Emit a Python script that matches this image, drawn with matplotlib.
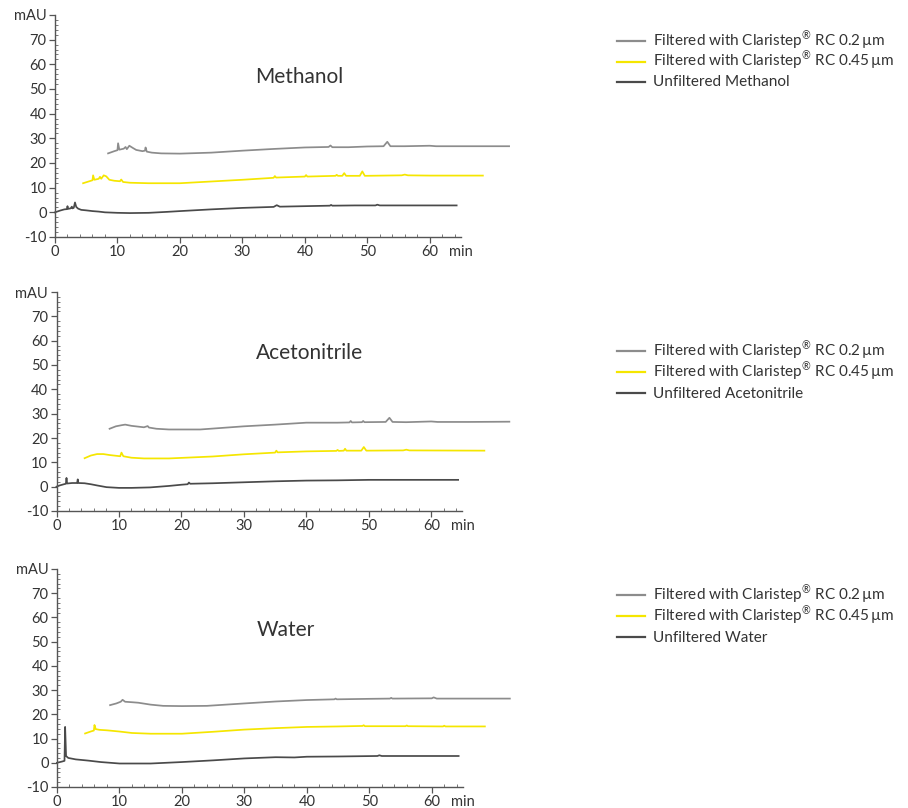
import matplotlib
matplotlib.use("Agg")
import matplotlib.pyplot as plt
from matplotlib.lines import Line2D
from matplotlib.ticker import MultipleLocator

plt.rcParams['font.family'] = ['Lato', 'DejaVu Sans']
plt.rcParams['mathtext.fontset'] = 'custom'
plt.rcParams['mathtext.rm'] = 'Lato'
plt.rcParams['mathtext.it'] = 'Lato:italic'
plt.rcParams['mathtext.bf'] = 'Lato:bold'

# ---------------- data (time in min, absorbance in mAU, as drawn with offsets) -------------
meth_unf = [(0,0),(0.8,0.7),(1.5,1.2),(1.9,1.3),(2.0,2.5),(2.1,1.4),(2.5,1.6),(2.7,2.3),(2.8,1.6),
            (3.0,1.8),(3.2,4.0),(3.4,2.2),(3.7,1.5),(4.2,1.0),(5,0.8),(6,0.5),(7,0.3),(8,0.0),
            (10,-0.2),(12,-0.3),(15,-0.2),(18,0.2),(20,0.5),(25,1.2),(30,1.8),(35,2.2),(35.5,2.9),
            (36,2.3),(40,2.5),(44,2.7),(44.2,3.0),(44.4,2.7),(48,2.8),(51.3,2.8),(51.6,3.1),(52,2.8),
            (56,2.8),(60,2.8),(64.3,2.8)]
meth_045 = [(4.5,11.8),(5.5,12.6),(6.0,13.0),(6.1,15.0),(6.3,13.2),(7.0,13.6),(7.2,14.4),(7.4,13.6),
            (7.8,15.0),(8.2,14.6),(8.7,13.2),(9.5,12.8),(10.4,12.6),(10.6,13.3),(10.9,12.3),(12,12.0),
            (15,11.8),(20,11.8),(25,12.5),(30,13.2),(35,14.0),(35.2,14.7),(35.4,14.1),(40,14.5),
            (40.2,15.1),(40.4,14.5),(44.9,14.8),(45.1,15.2),(45.3,14.8),(46.0,14.8),(46.3,15.9),
            (46.6,14.8),(48.8,14.8),(49.2,16.6),(49.6,14.8),(55.5,15.0),(56.0,15.3),(56.5,15.0),
            (60,14.9),(68.5,14.9)]
meth_02 = [(8.5,23.9),(9.5,24.8),(10.0,25.2),(10.1,28.0),(10.3,25.4),(11.0,25.8),(11.3,26.5),
           (11.5,25.6),(11.9,27.0),(12.4,26.2),(13.0,25.3),(14.0,24.8),(14.4,25.0),(14.5,26.3),
           (14.7,24.6),(15.5,24.2),(17,23.9),(20,23.8),(25,24.2),(30,25.0),(35,25.7),(40,26.3),
           (43.8,26.5),(44.1,27.1),(44.4,26.4),(47,26.4),(50,26.7),(52.6,26.8),(53.2,28.6),
           (53.7,26.8),(56,26.8),(60,27.0),(61,26.8),(66,26.8),(72.7,26.8)]

acn_unf = [(0,0),(0.5,0.5),(1.2,1.0),(1.5,1.2),(1.6,3.6),(1.7,1.3),(2.5,1.5),(3.0,1.5),(3.3,1.5),
           (3.4,3.0),(3.5,1.5),(4.5,1.4),(5.5,1.0),(6.5,0.5),(8,-0.2),(10,-0.5),(12,-0.5),(15,-0.3),
           (18,0.3),(20,0.8),(21.0,1.0),(21.2,1.7),(21.4,1.2),(25,1.4),(30,1.8),(35,2.2),(40,2.5),
           (45,2.6),(50,2.8),(57,2.8),(64.3,2.8)]
acn_045 = [(4.5,11.7),(5.5,12.8),(6.5,13.4),(7.5,13.4),(8.5,13.0),(10.2,12.5),(10.4,14.0),(10.7,12.5),
           (12,11.9),(14,11.6),(18,11.6),(25,12.4),(30,13.3),(35,14.0),(35.2,14.8),(35.4,14.1),
           (40,14.5),(44.8,14.7),(45.0,15.1),(45.2,14.7),(46.0,14.8),(46.2,15.6),(46.4,14.8),
           (48.8,14.8),(49.2,16.3),(49.6,14.8),(55.5,14.9),(56.0,15.2),(56.5,14.9),(68.5,14.8)]
acn_02 = [(8.5,23.8),(9.5,24.8),(10.5,25.3),(11,25.5),(12,25.0),(14,24.4),(14.6,24.9),(14.8,24.3),
          (16,23.8),(18,23.5),(23,23.5),(30,24.8),(35,25.5),(40,26.3),(45,26.3),(46.9,26.4),
          (47.1,27.0),(47.3,26.4),(48.9,26.5),(49.1,27.0),(49.3,26.5),(52.7,26.6),(53.3,28.3),
          (53.8,26.6),(56,26.5),(60,26.8),(61,26.6),(66,26.6),(72.5,26.7)]

wat_unf = [(0,0),(0.8,0.5),(1.2,0.8),(1.3,14.8),(1.45,2.8),(1.8,2.0),(3,1.4),(5,0.9),(7,0.3),
           (10,-0.3),(15,-0.3),(20,0.3),(25,1.0),(30,1.8),(35,2.3),(38,2.2),(40,2.5),(45,2.6),
           (51.3,2.8),(51.6,3.1),(52,2.8),(64.3,2.8)]
wat_045 = [(4.5,12.1),(5.5,13.0),(5.9,13.3),(6.0,15.6),(6.2,13.9),(6.8,13.6),(8,13.4),(10,12.9),
           (12,12.3),(15,12.0),(20,12.0),(25,12.8),(30,13.7),(35,14.3),(40,14.8),(45,15.0),
           (48.9,15.2),(49.1,15.5),(49.3,15.1),(55.8,15.1),(56.0,15.4),(56.2,15.1),(61.8,15.0),
           (62.0,15.3),(62.2,15.0),(68.5,15.0)]
wat_02 = [(8.5,23.8),(9.5,24.5),(10.2,25.2),(10.5,26.0),(10.9,25.2),(12,25.0),(13,24.8),(15,24.0),
          (17,23.5),(20,23.4),(24,23.5),(30,24.5),(35,25.3),(40,25.9),(44.4,26.2),(44.6,26.5),
          (44.8,26.2),(50,26.4),(53.3,26.5),(53.5,26.8),(53.7,26.5),(60,26.6),(60.3,27.0),
          (60.8,26.5),(72.5,26.5)]

solvents = ["Methanol", "Acetonitrile", "Water"]
series = [(meth_02, meth_045, meth_unf), (acn_02, acn_045, acn_unf), (wat_02, wat_045, wat_unf)]
labels_common = ["Filtered with Claristep$^{\\mathrm{\u00ae}}$ RC 0.2\u2009\u00b5m",
                 "Filtered with Claristep$^{\\mathrm{\u00ae}}$ RC 0.45\u2009\u00b5m"]
y_ticks = [-10, 0, 10, 20, 30, 40, 50, 60, 70, 80]
y_labels = ["-10", "0", "10", "20", "30", "40", "50", "60", "70", "mAU"]
x_ticks = [0, 10, 20, 30, 40, 50, 60, 65]
x_labels = ["0", "10", "20", "30", "40", "50", "60", "min"]

colors = ["#8c8c8c", "#f5e600", "#4a4a4a"]
txt = "#333333"

W, H = 908, 808
fig = plt.figure(figsize=(W/100, H/100), dpi=100)

# axes boxes in pixels: left, top, right, bottom
boxes = [(55, 15, 461, 237), (56.5, 292, 462.5, 511), (57, 569, 463, 787)]
legend_rows = [(41, 61.5, 82), (351, 372, 393), (595, 616, 637)]

for i, (name, sers, box) in enumerate(zip(solvents, series, boxes)):
    l, t, r, b = box
    ax = fig.add_axes([l/W, 1 - b/H, (r-l)/W, (b-t)/H])
    labs = labels_common + ["Unfiltered " + name]
    for s, c, lab in zip(sers, colors, labs):
        xs = [p[0] for p in s]
        ys = [p[1] for p in s]
        ax.plot(xs, ys, color=c, lw=1.25, clip_on=False, label=lab, solid_joinstyle='round')
    ax.set_xlim(0, 65)
    ax.set_ylim(-10, 80)
    for sp in ["top", "right"]:
        ax.spines[sp].set_visible(False)
    for sp in ["left", "bottom"]:
        ax.spines[sp].set_color("#555555")
        ax.spines[sp].set_linewidth(1.0)
    ax.set_yticks(y_ticks)
    ax.set_yticklabels(y_labels)
    ax.set_xticks(x_ticks)
    ax.set_xticklabels(x_labels)
    ax.yaxis.set_minor_locator(MultipleLocator(2))
    ax.xaxis.set_minor_locator(MultipleLocator(2))
    ax.tick_params(which='major', length=4, width=0.9, color="#555555", labelsize=10.5,
                   labelcolor=txt, pad=2)
    ax.tick_params(which='minor', direction='in', length=2, width=0.7, color="#777777")
    ax.xaxis.get_major_ticks()[-1].tick1line.set_visible(False)
    ax.set_facecolor("none")
    ax.text(32, 55, name, fontsize=15, color=txt, ha='left', va='center')

    # legend (manual, fixed row positions)
    for yrow, c, lab in zip(legend_rows[i], colors, labs):
        yf = 1 - yrow / H
        fig.add_artist(Line2D([617/W, 645/W], [yf, yf], color=c, lw=1.6,
                              transform=fig.transFigure))
        fig.text(653/W, 1 - (yrow + 4.5)/H, lab, fontsize=11, color=txt,
                 ha='left', va='baseline')

fig.savefig("out.png", dpi=100, facecolor="white")
